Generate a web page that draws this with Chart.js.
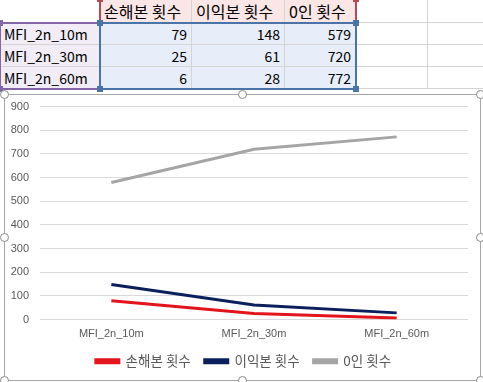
<!DOCTYPE html>
<html>
<head>
<meta charset="utf-8">
<script src="https://cdn.jsdelivr.net/npm/chart.js@4/dist/chart.umd.min.js"></script>
<style>
body{margin:0;background:#fff;width:483px;height:382px;overflow:hidden;position:relative;font-family:"Noto Sans CJK KR","Noto Sans",sans-serif}
.cell{position:absolute;box-sizing:border-box;border-right:1px solid #d4d4d4;border-bottom:1px solid #d4d4d4;font-size:14px;line-height:21px;color:#000;padding:0 4px;white-space:nowrap;overflow:hidden}
.num{text-align:right}
.ko{font-size:16px}
.sel{position:absolute;box-sizing:border-box;border:2px solid}
.sq{position:absolute;width:6px;height:6px}
#frame{position:absolute;left:4px;top:94px;width:477px;height:287px;box-sizing:border-box;border:1px solid #a6a6a6;background:#fff}
#chartBox{position:absolute;left:5px;top:89px;width:475px;height:291px}
.hd{position:absolute;width:9px;height:9px;border:1px solid #8a8a8a;border-radius:50%;background:#fff;box-sizing:border-box}
</style>
</head>
<body>
<div id="sheet"></div>
<div id="frame"></div>
<div id="chartBox"><canvas id="lineChart"></canvas></div>
<script>

const categories = ["MFI_2n_10m", "MFI_2n_30m", "MFI_2n_60m"]

const seriesNames = ["손해본 횟수", "이익본 횟수", "0인 횟수"]

const lossCounts = [79, 25, 6]
const profitCounts = [148, 61, 28]
const zeroCounts = [579, 720, 772]

const yTicks = [0, 100, 200, 300, 400, 500, 600, 700, 800, 900]

const seriesColors = ["#e3141b", "#0b1f5c", "#a5a5a5"]


function buildSheet(){

    const sheet = document.getElementById("sheet")

    const colX = [-20, 100, 192, 285, 356, 428, 500]
    const rowY = [-1, 23, 45, 67, 89]

    const columns = [lossCounts, profitCounts, zeroCounts]

    function addCell(c, r, text, cls, bg){
        const d = document.createElement("div")
        d.className = "cell " + (cls || "")
        d.style.left = colX[c] + "px"
        d.style.top = rowY[r] + "px"
        d.style.width = (colX[c + 1] - colX[c]) + "px"
        d.style.height = (rowY[r + 1] - rowY[r]) + "px"
        d.style.lineHeight = (rowY[r + 1] - rowY[r]) + "px"
        if(bg) d.style.background = bg
        d.textContent = text
        if(c === 0) d.style.paddingLeft = "24px"
        sheet.appendChild(d)
    }

    for(let r = 0; r < 4; r++){
        for(let c = 0; c < 6; c++){
            if(r === 0 && c >= 1 && c <= 3){
                addCell(c, r, seriesNames[c - 1], "ko", "#fbe6e6")
            } else if(r > 0 && c === 0){
                addCell(c, r, categories[r - 1], "", "#f1ecf6")
            } else if(r > 0 && c >= 1 && c <= 3){
                addCell(c, r, columns[c - 1][r - 1], "num", "#e7eef9")
            } else {
                addCell(c, r, "", "")
            }
        }
    }

    function addSel(x1, y1, x2, y2, color){
        const s = document.createElement("div")
        s.className = "sel"
        s.style.left = (x1 - 1) + "px"
        s.style.top = (y1 - 1) + "px"
        s.style.width = (x2 - x1 + 2) + "px"
        s.style.height = (y2 - y1 + 2) + "px"
        s.style.borderColor = color
        sheet.appendChild(s)
        const corners = [[x1, y1], [x2, y1], [x1, y2], [x2, y2]]
        corners.forEach(function(p){
            const q = document.createElement("div")
            q.className = "sq"
            q.style.left = (p[0] - 3) + "px"
            q.style.top = (p[1] - 3) + "px"
            q.style.background = color
            sheet.appendChild(q)
        })
    }

    addSel(100, -1, 356, 23, "#b84a4f")
    addSel(0, 23, 100, 89, "#8466a6")
    addSel(100, 23, 356, 89, "#4a73a8")
}

function buildHandles(){

    const pts = [[4, 94], [242, 94], [480, 94], [4, 237], [480, 237], [4, 380], [242, 380], [480, 380]]

    pts.forEach(function(p){
        const h = document.createElement("div")
        h.className = "hd"
        h.style.left = (p[0] - 4) + "px"
        h.style.top = (p[1] - 4) + "px"
        document.body.appendChild(h)
    })
}

// legend box is centred on the plot width, Excel centres it on the whole frame
const legendShift = {
    id:"legendShift",
    afterLayout:function(chart){
        chart.legend.left += 7
        chart.legend.right += 7
    }
}


function createLineChart(){

    const ctx =
    document
    .getElementById(
        "lineChart"
    )

    const values = [lossCounts, profitCounts, zeroCounts]

    new Chart(
        ctx,
        {
            type:"line",

            data:{

                labels:categories,

                datasets:seriesNames.map(function(name, i){
                    return {
                        label:name,
                        data:values[i],
                        borderColor:seriesColors[i],
                        backgroundColor:seriesColors[i],
                        borderWidth:3,
                        pointRadius:0,
                        tension:0,
                        fill:false
                    }
                })
            },

            options:{
                responsive:false,
                animation:false,
                layout:{
                    padding:{top:5, right:12, left:0, bottom:2}
                },
                plugins:{
                    tooltip:{enabled:false},
                    legend:{
                        position:"bottom",
                        labels:{
                            boxWidth:23,
                            boxHeight:3,
                            padding:14,
                            color:"#595959",
                            font:{family:"'Noto Sans CJK KR'", size:13.5}
                        }
                    }
                },
                scales:{
                    x:{
                        offset:true,
                        grid:{display:false, drawTicks:false},
                        border:{display:false},
                        afterFit:function(scale){
                            scale.height = 21
                        },
                        ticks:{
                            color:"#595959",
                            padding:9,
                            maxRotation:0,
                            font:{family:"'Liberation Sans'", size:11, lineHeight:1}
                        }
                    },
                    y:{
                        min:yTicks[0],
                        max:yTicks[yTicks.length - 1],
                        afterBuildTicks:function(scale){
                            scale.ticks = yTicks.map(function(v){ return {value:v} })
                        },
                        afterFit:function(scale){
                            scale.width = 35
                        },
                        grid:{color:"#d9d9d9", drawTicks:false},
                        border:{display:false},
                        ticks:{
                            color:"#595959",
                            padding:11,
                            font:{family:"'Liberation Sans'", size:11}
                        }
                    }
                }
            },

            plugins:[legendShift]
        }
    )
}

buildSheet()
buildHandles()

const cv = document.getElementById("lineChart")
cv.width = 475
cv.height = 291
createLineChart()

</script>
</body>
</html>
